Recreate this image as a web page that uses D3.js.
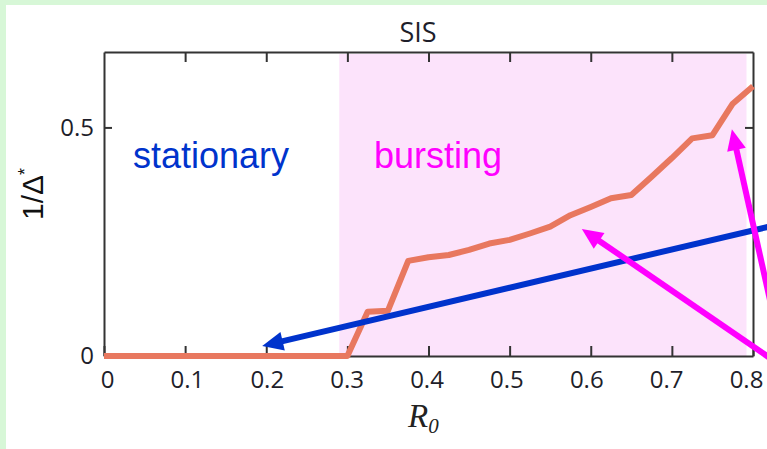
<!DOCTYPE html>
<html>
<head>
<meta charset="utf-8">
<script src="https://cdn.jsdelivr.net/npm/d3@7"></script>
<style>
  html, body { margin: 0; padding: 0; background: #d7f7d7; }
  svg { display: block; }
</style>
</head>
<body>
<div id="graph"></div>
<script>
const w = 767;
const h = 449;

// R0 grid and 1/Delta* values
const r0 = [0, 0.025, 0.05, 0.075, 0.1, 0.125, 0.15, 0.175, 0.2, 0.225, 0.25, 0.275, 0.3,
            0.325, 0.35, 0.375, 0.4, 0.425, 0.45, 0.475, 0.5, 0.525, 0.55, 0.575, 0.6,
            0.625, 0.65, 0.675, 0.7, 0.725, 0.75, 0.775, 0.8];
const invDelta = [0, 0, 0, 0, 0, 0, 0, 0, 0, 0, 0, 0, 0,
                  0.097, 0.099, 0.208, 0.216, 0.221, 0.232, 0.246, 0.254, 0.268, 0.283, 0.308, 0.326,
                  0.345, 0.352, 0.392, 0.433, 0.476, 0.483, 0.552, 0.59];

const xTicks = [0, 0.1, 0.2, 0.3, 0.4, 0.5, 0.6, 0.7, 0.8];
const xTickLabels = ["0", "0.1", "0.2", "0.3", "0.4", "0.5", "0.6", "0.7", "0.8"];
const yTicks = [0, 0.5];
const yTickLabels = ["0", "0.5"];

// bursting regime span on the R0 axis
const burstRange = [0.29, 0.792];

// arrows: [tail, tip] in data units
const arrows = [
  { color: "#0033cc", tail: [0.858, 0.299], tip: [0.195, 0.022] },
  { color: "#ff00ff", tail: [0.846, -0.035], tip: [0.589, 0.278] },
  { color: "#ff00ff", tail: [0.827, 0.074], tip: [0.774, 0.496] }
];

const svg = d3.select("#graph")
  .append("svg")
  .attr("width", w)
  .attr("height", h);

svg.append("rect")
  .attr("x", 6).attr("y", 5)
  .attr("width", w - 6).attr("height", h - 5)
  .attr("fill", "#ffffff");

const x = d3.scaleLinear().domain([0, 0.8]).range([104, 753]);
const y = d3.scaleLinear().domain([0, 0.665]).range([356, 52]);
// tick labels sit a bit tighter than the ticks in the original
const xLab = d3.scaleLinear().domain([0, 0.8]).range([107, 746]);

// pink band
svg.append("rect")
  .attr("x", x(burstRange[0]))
  .attr("y", y(0.665) + 2)
  .attr("width", x(burstRange[1]) - x(burstRange[0]))
  .attr("height", y(0) - y(0.665) - 2)
  .attr("fill", "#fce3fb");

const tickFont = "'Open Sans', sans-serif";

function styleAxis(g) {
  g.selectAll("path, line").attr("stroke", "#333").attr("stroke-width", 2);
  g.selectAll("text").attr("fill", "#1e1e2a").style("font-family", tickFont).style("font-size", "24px");
}

svg.append("g")
  .attr("transform", "translate(0," + y(0) + ")")
  .call(d3.axisBottom(x).tickValues(xTicks).tickSizeInner(-10).tickSizeOuter(0).tickPadding(15)
    .tickFormat((d, i) => xTickLabels[i]))
  .call(styleAxis)
  .selectAll("text").attr("x", d => xLab(d) - x(d));

svg.append("g")
  .attr("transform", "translate(0," + y(0.665) + ")")
  .call(d3.axisTop(x).tickValues(xTicks.slice(1, -1)).tickSizeInner(-10).tickSizeOuter(0).tickFormat(""))
  .call(styleAxis);

svg.append("g")
  .attr("transform", "translate(" + x(0) + ",0)")
  .call(d3.axisLeft(y).tickValues(yTicks).tickSizeInner(-8).tickSizeOuter(0).tickPadding(10)
    .tickFormat((d, i) => yTickLabels[i]))
  .call(styleAxis);

svg.append("g")
  .attr("transform", "translate(" + x(0.8) + ",0)")
  .call(d3.axisRight(y).tickValues([0.5]).tickSizeInner(-8).tickSizeOuter(0).tickFormat(""))
  .call(styleAxis);

// title
svg.append("text")
  .attr("x", 418).attr("y", 42)
  .attr("text-anchor", "middle")
  .style("font-family", tickFont).style("font-size", "27px")
  .attr("fill", "#1e1e2a")
  .text("SIS");

// y label
const yl = svg.append("text")
  .attr("transform", "translate(43,194) rotate(-90)")
  .attr("text-anchor", "middle")
  .style("font-family", "'Liberation Sans', Arial, sans-serif")
  .style("font-size", "30px")
  .attr("fill", "#111");
yl.append("tspan").text("1/Δ");
yl.append("tspan").attr("dy", -12).style("font-size", "18px").text("*");

// x label
const xl = svg.append("text")
  .attr("x", 408).attr("y", 427)
  .style("font-family", "'Liberation Serif', 'Times New Roman', serif")
  .style("font-style", "italic")
  .style("font-size", "33px")
  .attr("fill", "#222");
xl.append("tspan").text("R");
xl.append("tspan").attr("dy", 6).style("font-size", "21px").text("0");

// regime labels
svg.append("text")
  .attr("x", 133).attr("y", 168)
  .style("font-family", "'Liberation Sans', Arial, sans-serif")
  .style("font-size", "36px")
  .attr("fill", "#0033cc")
  .text("stationary");

svg.append("text")
  .attr("x", 374).attr("y", 168)
  .style("font-family", "'Liberation Sans', Arial, sans-serif")
  .style("font-size", "36px")
  .attr("fill", "#ff00ff")
  .text("bursting");

// curve
const line = d3.line()
  .x((d, i) => x(r0[i]))
  .y(d => y(d));

svg.append("path")
  .datum(invDelta)
  .attr("d", line)
  .attr("fill", "none")
  .attr("stroke", "#e8785f")
  .attr("stroke-width", 6)
  .attr("stroke-linejoin", "round");

// arrows
const headLen = 21, headHalf = 9.5;
arrows.forEach(a => {
  const tx = x(a.tail[0]), ty = y(a.tail[1]);
  const px = x(a.tip[0]), py = y(a.tip[1]);
  const dx = px - tx, dy = py - ty;
  const len = Math.sqrt(dx * dx + dy * dy);
  const ux = dx / len, uy = dy / len;
  const bx = px - ux * headLen, by = py - uy * headLen;
  svg.append("line")
    .attr("x1", tx).attr("y1", ty)
    .attr("x2", bx + ux * 2).attr("y2", by + uy * 2)
    .attr("stroke", a.color)
    .attr("stroke-width", 6);
  svg.append("polygon")
    .attr("points", [
      [px, py],
      [bx - uy * headHalf, by + ux * headHalf],
      [bx + uy * headHalf, by - ux * headHalf]
    ].map(p => p.join(",")).join(" "))
    .attr("fill", a.color);
});
</script>
</body>
</html>
